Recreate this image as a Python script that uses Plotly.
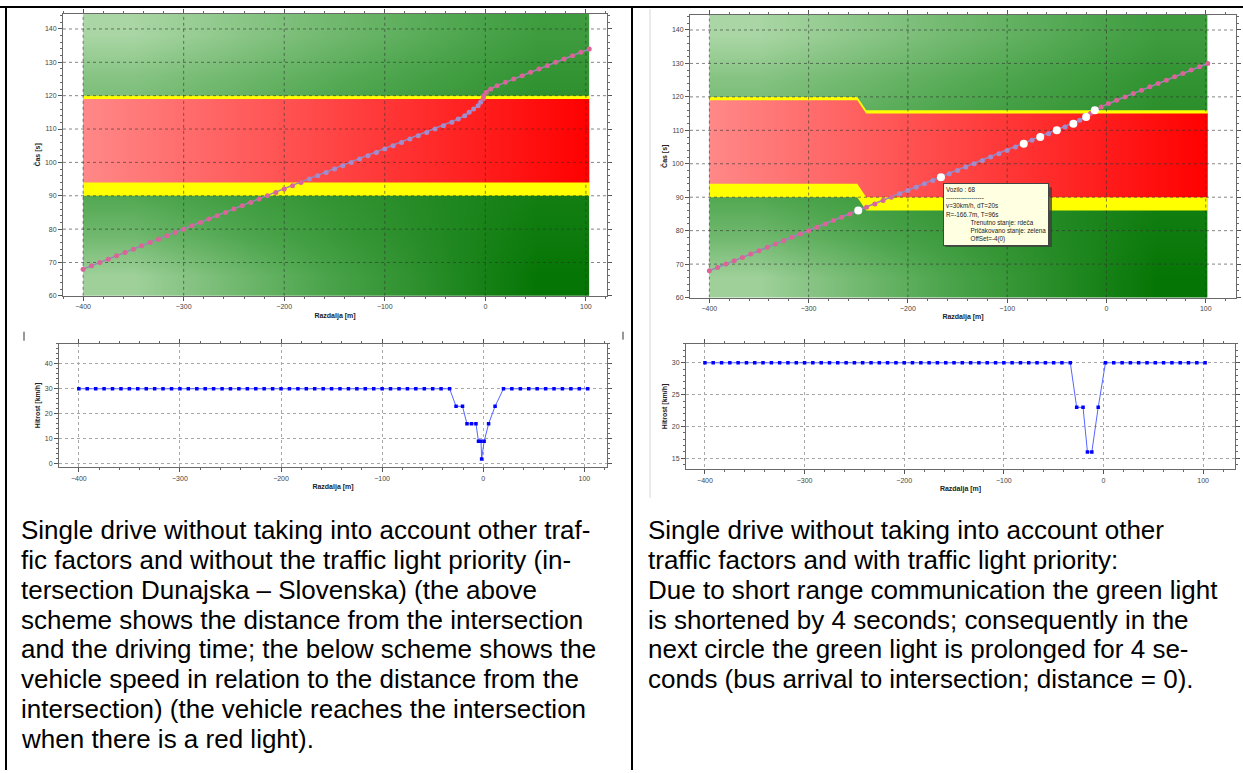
import numpy as np
import plotly.graph_objects as go

W, H = 1243, 773

# ---------------- data ----------------
# distance [m] of the bus, one sample per second, approach at 30 km/h
dist_approach = [-400.0, -391.7, -383.3, -375.0, -366.7, -358.3, -350.0, -341.7, -333.3, -325.0,
                 -316.7, -308.3, -300.0, -291.7, -283.3, -275.0, -266.7, -258.3, -250.0, -241.7,
                 -233.3, -225.0, -216.7, -208.3, -200.0, -191.7, -183.3, -175.0, -166.7, -158.3,
                 -150.0, -141.7, -133.3, -125.0, -116.7, -108.3, -100.0, -91.7, -83.3, -75.0,
                 -66.7, -58.3, -50.0, -41.7, -33.3]
speed_approach = [30, 30, 30, 30, 30, 30, 30, 30, 30, 30,
                  30, 30, 30, 30, 30, 30, 30, 30, 30, 30,
                  30, 30, 30, 30, 30, 30, 30, 30, 30, 30,
                  30, 30, 30, 30, 30, 30, 30, 30, 30, 30,
                  30, 30, 30, 30, 30]

# left case: no priority
dist_left_tail = [-26.9, -20.5, -16.1, -11.6, -7.2, -4.7, -2.2, -1.6, 0.9, 5.3, 11.7,
                  20.0, 28.3, 36.7, 45.0, 53.3, 61.7, 70.0, 78.3, 86.7, 95.0, 103.3]
speed_left_tail = [23, 23, 16, 16, 16, 9, 9, 2, 9, 16, 23,
                   30, 30, 30, 30, 30, 30, 30, 30, 30, 30, 30]
time_left = [68, 69, 70, 71, 72, 73, 74, 75, 76, 77, 78, 79, 80, 81, 82, 83, 84, 85, 86, 87,
             88, 89, 90, 91, 92, 93, 94, 95, 96, 97, 98, 99, 100, 101, 102, 103, 104, 105, 106,
             107, 108, 109, 110, 111, 112, 113, 114, 115, 116, 117, 118, 119, 120, 121, 122, 123,
             124, 125, 126, 127, 128, 129, 130, 131, 132, 133, 134]

# right case: with priority
dist_right_tail = [-26.9, -20.5, -16.1, -11.7, -5.3, 2.0, 10.3, 18.7, 27.0, 35.3, 43.7,
                   52.0, 60.3, 68.7, 77.0, 85.3, 93.7, 102.0]
speed_right_tail = [23, 23, 16, 16, 23, 30, 30, 30, 30, 30, 30, 30, 30, 30, 30, 30, 30, 30]
time_right = [68, 69, 70, 71, 72, 73, 74, 75, 76, 77, 78, 79, 80, 81, 82, 83, 84, 85, 86, 87,
              88, 89, 90, 91, 92, 93, 94, 95, 96, 97, 98, 99, 100, 101, 102, 103, 104, 105, 106,
              107, 108, 109, 110, 111, 112, 113, 114, 115, 116, 117, 118, 119, 120, 121, 122, 123,
              124, 125, 126, 127, 128, 129, 130]
highlight_times_right = [86, 96, 106, 108, 110, 112, 114, 116]

dist_left = dist_approach + dist_left_tail
speed_left = speed_approach + speed_left_tail
dist_right = dist_approach + dist_right_tail
speed_right = speed_approach + speed_right_tail

# signal phases (time [s]) along distance
left_band_x = [-400, 103.3]
left_yellow_lo = [90, 90]
left_red_lo = [94, 94]
left_red_hi = [119, 119]
left_yellow_hi = [120, 120]

right_band_x = [-400, -251, -242, 102.0]
right_yellow_lo = [90, 90, 86, 86]
right_red_lo = [94, 94, 90, 90]
right_red_hi = [119, 119, 115, 115]
right_yellow_hi = [120, 120, 116, 116]

x_ticks = [-400, -300, -200, -100, 0, 100]
time_ticks = [60, 70, 80, 90, 100, 110, 120, 130, 140]

# ---------------- styling helpers ----------------
green_scale = [[0, '#b3dbad'], [0.5, '#4ea64e'], [1, '#007200']]
shade_y_edges = [60, 72, 84, 96, 108, 120, 132, 144.5]
green_shade = [
    [0.10, 0.32, 0.54, 0.75, 0.97],
    [0.33, 0.48, 0.63, 0.77, 0.92],
    [0.48, 0.58, 0.68, 0.78, 0.88],
    [0.42, 0.52, 0.62, 0.72, 0.82],
    [0.32, 0.42, 0.53, 0.63, 0.73],
    [0.22, 0.33, 0.45, 0.56, 0.68],
    [0.05, 0.19, 0.33, 0.46, 0.60],
]

fig = go.Figure()


def band_poly(xs, lo, hi):
    xs = list(xs)
    return xs + xs[::-1], list(lo) + list(hi)[::-1]


def add_top_panel(xa, ya, band_x, y_lo, r_lo, r_hi, y_hi, dist, time, xr, yr, highlight=None):
    xedges = [-400, -300, -200, -100, 0, band_x[-1]]
    fig.add_trace(go.Heatmap(x=xedges, y=shade_y_edges, z=green_shade, zsmooth='best',
                             colorscale=green_scale, zmin=0, zmax=1, showscale=False,
                             hoverinfo='skip', xaxis=xa, yaxis=ya))
    px, py = band_poly(band_x, y_lo, y_hi)
    fig.add_trace(go.Scatter(x=px, y=py, fill='toself', fillcolor='#ffff00', mode='lines',
                             line=dict(width=0), hoverinfo='skip', xaxis=xa, yaxis=ya))
    px, py = band_poly(band_x, r_lo, r_hi)
    fig.add_trace(go.Scatter(x=px, y=py, fill='toself', mode='lines', line=dict(width=0),
                             fillgradient=dict(type='horizontal', start=-400, stop=band_x[-1],
                                               colorscale=[[0, '#ff8888'], [1, '#ff0000']]),
                             hoverinfo='skip', xaxis=xa, yaxis=ya))
    # dotted grid drawn above the coloured phases
    gx, gy = [], []
    for v in x_ticks:
        gx += [v, v, None]
        gy += [yr[0], yr[1], None]
    for v in time_ticks[1:]:
        gx += [xr[0], xr[1], None]
        gy += [v, v, None]
    fig.add_trace(go.Scatter(x=gx, y=gy, mode='lines', hoverinfo='skip',
                             line=dict(color='rgba(50,50,50,0.6)', width=1, dash='dot'),
                             xaxis=xa, yaxis=ya))
    # trajectory
    colors = []
    for d, t in zip(dist, time):
        lo = np.interp(d, band_x, r_lo)
        hi = np.interp(d, band_x, r_hi)
        colors.append('#a48ccc' if lo < t < hi else '#dc6496')
    fig.add_trace(go.Scatter(x=dist, y=time, mode='lines+markers', hoverinfo='skip',
                             line=dict(color='#9686be', width=1.5),
                             marker=dict(size=5, color=colors), xaxis=xa, yaxis=ya))
    if highlight:
        hx = [d for d, t in zip(dist, time) if t in highlight]
        hy = [t for t in time if t in highlight]
        fig.add_trace(go.Scatter(x=hx, y=hy, mode='markers', hoverinfo='skip',
                                 marker=dict(size=8, color='white'), xaxis=xa, yaxis=ya))


def add_speed_panel(xa, ya, dist, speed):
    fig.add_trace(go.Scatter(x=dist, y=speed, mode='lines+markers', hoverinfo='skip',
                             line=dict(color='#5566ff', width=1),
                             marker=dict(size=3.5, color='#0000ff', symbol='square'),
                             xaxis=xa, yaxis=ya))


XR_TL, YR_T = [-420, 121], [60, 144.5]
XR_TR = [-419.5, 130.5]
add_top_panel('x', 'y', left_band_x, left_yellow_lo, left_red_lo, left_red_hi, left_yellow_hi,
              dist_left, time_left, XR_TL, YR_T)
add_top_panel('x3', 'y3', right_band_x, right_yellow_lo, right_red_lo, right_red_hi,
              right_yellow_hi, dist_right, time_right, XR_TR, YR_T,
              highlight=highlight_times_right)
add_speed_panel('x2', 'y2', dist_left, speed_left)
add_speed_panel('x4', 'y4', dist_right, speed_right)

tickfont = dict(family='Liberation Sans, Arial', size=7, color='#444')
titlefont = dict(family='Liberation Sans, Arial', size=7, color='#222')


def ax(domain, rng, dtick, minor, title, anchor, grid=False):
    return dict(domain=domain, range=rng, dtick=dtick, tick0=0, anchor=anchor,
                showgrid=grid, gridcolor='#a8a8a8', griddash='dot', gridwidth=1,
                zeroline=False, showline=True, linecolor='#6a6a6a', linewidth=1,
                mirror='allticks', ticks='outside', ticklen=4, tickcolor='#555',
                tickfont=tickfont,
                minor=dict(dtick=minor, ticks='outside', ticklen=2, tickcolor='#666',
                           showgrid=False),
                title=dict(text='<b>' + title + '</b>', font=titlefont, standoff=3))


def px_x(a, b):
    return [a / W, b / W]


def px_y(top, bottom):
    return [1 - bottom / H, 1 - top / H]


fig.update_layout(
    width=W, height=H, autosize=False,
    margin=dict(l=0, r=0, t=0, b=0),
    paper_bgcolor='white', plot_bgcolor='white', showlegend=False,
    xaxis=ax(px_x(63, 607), XR_TL, 100, 20, 'Razdalja [m]', 'y'),
    yaxis=ax(px_y(14, 297), YR_T, 10, 2, 'Čas [s]', 'x'),
    xaxis2=ax(px_x(59, 607), [-419.6, 122.4], 100, 20, 'Razdalja [m]', 'y2', True),
    yaxis2=ax(px_y(345, 469), [-1.3, 48], 10, 2, 'Hitrost [km/h]', 'x2', True),
    xaxis3=ax(px_x(690, 1236), XR_TR, 100, 20, 'Razdalja [m]', 'y3'),
    yaxis3=ax(px_y(15, 298.7), YR_T, 10, 2, 'Čas [s]', 'x3'),
    xaxis4=ax(px_x(686, 1235), [-419, 132], 100, 20, 'Razdalja [m]', 'y4', True),
    yaxis4=ax(px_y(345, 471), [13.3, 33], 5, 1, 'Hitrost [km/h]', 'x4', True),
)

# tooltip in the right chart (shadow drawn as a shape behind it)
fig.add_shape(type='rect', xref='paper', yref='paper', layer='above',
              x0=945 / W, x1=1052 / W, y0=1 - 248 / H, y1=1 - 188 / H,
              line=dict(width=0), fillcolor='rgba(60,60,60,0.75)')
indent = '&nbsp;' * 14
tip = ('Vozilo : 68<br>------------------<br>v=30km/h, dT=20s<br>R=-166.7m, T=96s<br>'
       + indent + 'Trenutno stanje: rdeča<br>' + indent + 'Pričakovano stanje: zelena<br>'
       + indent + 'OffSet=-4(0)')
tipfont = dict(family='Liberation Sans, Arial', size=6.3, color='#222')
fig.add_annotation(x=-166.7, y=96, xref='x3', yref='y3', text=tip, showarrow=False,
                   xanchor='left', yanchor='top', xshift=2, yshift=-6, align='left',
                   font=tipfont, bgcolor='#ffffe1', borderpad=2, borderwidth=1,
                   bordercolor='#444')

# captions
left_lines = [
    'Single drive without taking into account other traf-',
    'fic factors and without the traffic light priority (in-',
    'tersection Dunajska – Slovenska) (the above',
    'scheme shows the distance from the intersection',
    'and the driving time; the below scheme shows the',
    'vehicle speed in relation to the distance from the',
    'intersection) (the vehicle reaches the intersection',
    'when there is a red light).',
]
right_lines = [
    'Single drive without taking into account other',
    'traffic factors and with traffic light priority:',
    'Due to short range communication the green light',
    'is shortened by 4 seconds; consequently in the',
    'next circle the green light is prolonged for 4 se-',
    'conds (bus arrival to intersection; distance = 0).',
]
capfont = dict(family='Liberation Sans, Arial', size=26, color='black')
for i, s in enumerate(left_lines):
    fig.add_annotation(x=19 / W, y=1 - (532 + 30 * i) / H, xref='paper', yref='paper',
                       text=s, showarrow=False, xanchor='left', yanchor='middle', font=capfont)
for i, s in enumerate(right_lines):
    fig.add_annotation(x=646 / W, y=1 - (532 + 30 * i) / H, xref='paper', yref='paper',
                       text=s, showarrow=False, xanchor='left', yanchor='middle', font=capfont)

# table borders and small marks
def pline(x0, y0, x1, y1, color='black', width=2):
    fig.add_shape(type='line', xref='paper', yref='paper', x0=x0 / W, x1=x1 / W,
                  y0=1 - y0 / H, y1=1 - y1 / H, line=dict(color=color, width=width))

pline(0, 7, W, 7)
pline(6, 7, 6, H)
pline(632, 7, 632, H)
pline(650, 9, 650, 500, color='#d6d6d6', width=1)
pline(24, 333, 24, 342, color='#333', width=1)
pline(623, 333, 623, 341, color='#333', width=1)

fig.write_html('out.html')
